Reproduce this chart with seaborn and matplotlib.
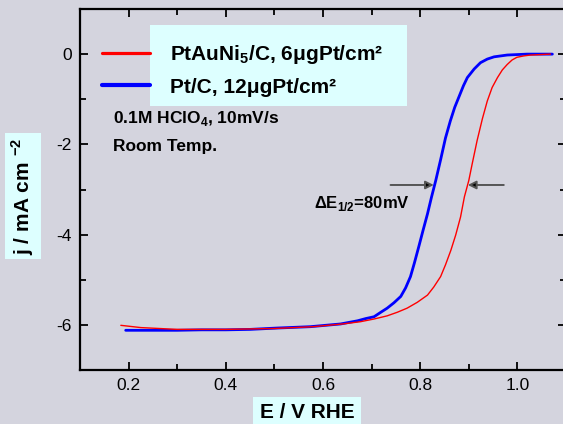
import numpy as np
import pandas as pd
import seaborn as sns
import matplotlib.pyplot as plt
from matplotlib.lines import Line2D
from matplotlib.patches import Rectangle
from matplotlib.ticker import MultipleLocator

# PtAuNi5/C polarization curve
E_alloy = [0.184, 0.225, 0.30, 0.40, 0.50, 0.58, 0.64, 0.677, 0.705, 0.732, 0.753,
           0.773, 0.794, 0.815, 0.828, 0.842, 0.852, 0.863, 0.873, 0.883, 0.891,
           0.900, 0.907, 0.917, 0.928, 0.938, 0.948, 0.959, 0.969, 0.979, 0.989,
           0.999, 1.013, 1.027, 1.068]
j_alloy = [-6.01, -6.06, -6.10, -6.10, -6.08, -6.04, -5.98, -5.93, -5.87, -5.80, -5.72,
           -5.63, -5.50, -5.34, -5.16, -4.93, -4.67, -4.35, -4.01, -3.61, -3.16,
           -2.80, -2.43, -1.92, -1.43, -1.04, -0.74, -0.52, -0.35, -0.23, -0.13,
           -0.07, -0.04, -0.02, 0.0]

# Pt/C polarization curve
E_ptc = [0.194, 0.25, 0.30, 0.35, 0.40, 0.45, 0.506, 0.574, 0.636, 0.671, 0.688,
         0.705, 0.719, 0.732, 0.746, 0.760, 0.770, 0.780, 0.788, 0.797, 0.806,
         0.815, 0.823, 0.832, 0.842, 0.852, 0.862, 0.871, 0.880, 0.889, 0.897,
         0.911, 0.924, 0.938, 0.952, 0.979, 1.02, 1.072]
j_ptc = [-6.12, -6.12, -6.12, -6.11, -6.11, -6.10, -6.07, -6.04, -5.98, -5.91, -5.86,
         -5.82, -5.72, -5.63, -5.51, -5.37, -5.18, -4.93, -4.63, -4.27, -3.90,
         -3.54, -3.18, -2.80, -2.34, -1.86, -1.48, -1.18, -0.94, -0.70, -0.52,
         -0.33, -0.19, -0.11, -0.06, -0.02, 0.0, 0.0]

labels = ['PtAuNi$_\\mathbf{5}$/C, 6\u03bcgPt/cm\u00b2', 'Pt/C, 12\u03bcgPt/cm\u00b2']
colors = ['#ff0000', '#0000ff']

# half-wave potentials used for the arrows
e_half = [0.898, 0.828]
j_arrow = -2.90

bg = '#d4d4de'
box = '#ddffff'

sns.set_theme(style='ticks')
plt.rcParams['font.family'] = ['Liberation Sans', 'DejaVu Sans']
plt.rcParams['mathtext.fontset'] = 'custom'
plt.rcParams['mathtext.rm'] = 'Liberation Sans'
plt.rcParams['mathtext.bf'] = 'Liberation Sans:bold'
plt.rcParams['axes.unicode_minus'] = False
plt.rcParams['text.color'] = 'black'
plt.rcParams['axes.labelcolor'] = 'black'

df = pd.concat([
    pd.DataFrame({'E': E_alloy, 'j': j_alloy, 'cat': labels[0]}),
    pd.DataFrame({'E': E_ptc, 'j': j_ptc, 'cat': labels[1]}),
])

fig = plt.figure(figsize=(5.63, 4.24), dpi=100, facecolor=bg)
ax = fig.add_axes([80 / 563, 54 / 424, 486 / 563, 361 / 424])
ax.set_facecolor(bg)

sns.lineplot(data=df[df['cat'] == labels[0]], x='E', y='j', color=colors[0],
             lw=1.0, ax=ax, sort=False, zorder=3)
sns.lineplot(data=df[df['cat'] == labels[1]], x='E', y='j', color=colors[1],
             lw=2.0, ax=ax, sort=False, zorder=2)

ax.set_xlim(0.1, 1.1)
ax.set_ylim(-7, 1)
ax.xaxis.set_major_locator(MultipleLocator(0.2))
ax.xaxis.set_minor_locator(MultipleLocator(0.1))
ax.yaxis.set_major_locator(MultipleLocator(2))
ax.yaxis.set_minor_locator(MultipleLocator(1))
ax.set_xticks([0.2, 0.4, 0.6, 0.8, 1.0])
ax.set_xticklabels(['0.2', '0.4', '0.6', '0.8', '1.0'])
ax.tick_params(which='both', direction='in', top=True, right=True,
               width=1.3, color='black', labelsize=12.5, labelcolor='black')
ax.tick_params(which='major', length=6, pad=6)
ax.tick_params(which='minor', length=4)
for s in ax.spines.values():
    s.set_linewidth(1.6)
    s.set_color('black')

ax.set_xlabel('E / V RHE', fontsize=15, weight='bold',
              bbox=dict(boxstyle='square,pad=0.3', fc=box, ec='none'))
ax.xaxis.set_label_coords(0.467, -0.119)
ax.xaxis.label.set_va('center')
ax.set_ylabel('j / mA cm $^{\\mathbf{-2}}$', fontsize=15, weight='bold',
              bbox=dict(boxstyle='square,pad=0.22', fc=box, ec='none'))
ax.yaxis.set_label_coords(-0.117, 0.482)
ax.yaxis.label.set_va('center')

# legend box with handles sticking out to the left
ax.add_patch(Rectangle((0.144, 0.731), 0.529, 0.225, transform=ax.transAxes,
                       fc=box, ec='none', zorder=1))
handles = [Line2D([], [], color=colors[0], lw=2.3),
           Line2D([], [], color=colors[1], lw=3.0)]
ax.legend(handles, labels, loc='upper left', bbox_to_anchor=(0.045, 0.905),
          frameon=False, prop=dict(weight='bold', size=15), handlelength=2.3,
          handletextpad=0.95, labelspacing=0.55, borderaxespad=0, borderpad=0)

ax.text(0.068, 0.698, '0.1M HClO$_\\mathbf{4}$, 10mV/s', transform=ax.transAxes,
        fontsize=12.5, weight='bold', va='center', ha='left')
ax.text(0.068, 0.618, 'Room Temp.', transform=ax.transAxes,
        fontsize=12.5, weight='bold', va='center', ha='left')

arrow = dict(arrowstyle='-|>', edgecolor='#555555', facecolor='black', lw=1.4,
             mutation_scale=12, shrinkA=0, shrinkB=0)
ax.annotate('', xy=(e_half[1], j_arrow), xytext=(0.739, j_arrow), arrowprops=arrow)
ax.annotate('', xy=(e_half[0], j_arrow), xytext=(0.972, j_arrow), arrowprops=arrow)
ax.text(0.680, -3.32, '\u0394E$_\\mathbf{1/2}$=80mV', fontsize=12, weight='bold',
        va='center', ha='center')

fig.savefig('out.png', dpi=100, facecolor=bg)
